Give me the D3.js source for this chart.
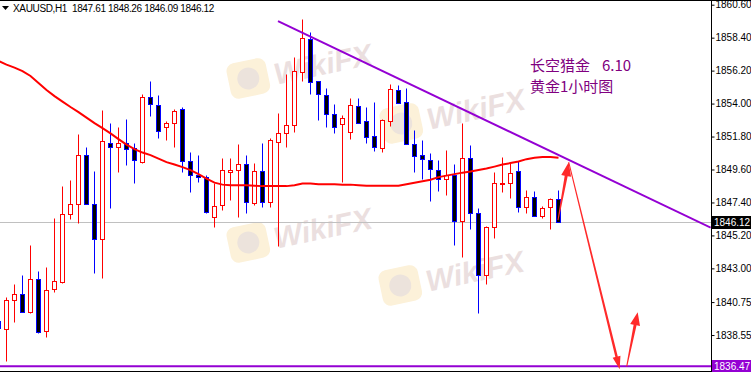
<!DOCTYPE html>
<html><head><meta charset="utf-8">
<script src="https://cdn.jsdelivr.net/npm/d3@7"></script>
<style>html,body{margin:0;padding:0;background:#fff;overflow:hidden}svg{display:block}</style>
</head><body>
<svg id="c" width="751" height="372"></svg>
<script>
const symbol = "XAUUSD,H1";
const firstIndex = -1;
const opens = [1839.49,1838.92,1840.92,1841.32,1840.12,1842.26,1838.82,1841.59,1842.06,1846.60,1847.31,1850.54,1847.27,1844.99,1851.34,1851.11,1851.38,1851.05,1850.11,1854.41,1853.90,1852.41,1852.68,1853.61,1850.14,1849.20,1849.07,1846.44,1847.20,1849.42,1849.54,1849.94,1847.37,1849.49,1847.44,1851.41,1852.01,1852.54,1856.12,1858.31,1855.50,1854.57,1853.28,1852.61,1852.11,1853.83,1852.83,1851.85,1851.05,1852.85,1854.90,1854.08,1851.27,1850.56,1850.23,1849.56,1848.94,1849.22,1846.17,1850.34,1846.67,1842.59,1845.73,1848.65,1848.67,1849.52,1847.07,1847.78,1846.51,1847.07,1847.61];
const highs = [1839.80,1841.09,1841.99,1842.54,1844.55,1842.81,1843.08,1846.37,1848.49,1848.89,1851.96,1851.11,1849.49,1853.57,1852.72,1852.41,1852.96,1851.34,1854.63,1855.50,1854.57,1852.83,1853.63,1853.75,1850.74,1850.56,1849.22,1848.67,1850.38,1850.38,1851.29,1850.56,1850.04,1851.38,1851.71,1853.34,1855.95,1857.12,1859.64,1858.75,1855.50,1855.05,1853.97,1853.23,1854.35,1854.35,1853.79,1854.12,1852.96,1855.30,1855.23,1855.02,1852.23,1851.56,1850.67,1850.23,1850.89,1849.96,1852.72,1851.23,1847.00,1845.82,1849.44,1850.45,1850.04,1850.16,1848.22,1848.15,1847.15,1847.70,1848.26];
const lows = [1838.87,1836.82,1839.42,1840.07,1839.99,1838.69,1838.42,1841.43,1842.00,1846.30,1846.04,1847.31,1842.70,1842.36,1847.04,1849.44,1849.89,1848.71,1850.04,1853.18,1851.70,1851.58,1851.11,1849.44,1848.11,1848.78,1846.69,1845.77,1846.89,1847.55,1846.40,1846.71,1847.22,1847.11,1847.11,1844.48,1851.11,1852.11,1855.50,1854.63,1852.90,1852.41,1852.05,1848.78,1851.63,1852.68,1851.34,1850.85,1850.78,1852.52,1854.01,1851.27,1849.44,1848.94,1847.51,1848.17,1847.89,1844.55,1843.77,1845.66,1840.03,1841.94,1845.06,1848.07,1847.73,1846.75,1846.71,1846.49,1846.33,1845.60,1846.09];
const closes = [1839.05,1840.92,1841.32,1840.12,1842.26,1838.76,1841.54,1842.14,1846.62,1847.33,1850.54,1847.31,1844.99,1851.47,1851.11,1851.34,1850.98,1850.21,1854.41,1853.95,1852.14,1852.68,1853.48,1850.14,1849.20,1849.09,1846.73,1847.15,1849.54,1849.54,1849.94,1847.44,1849.49,1847.44,1851.56,1852.01,1852.54,1856.15,1858.35,1855.45,1854.61,1853.28,1852.45,1853.01,1853.90,1852.68,1851.78,1851.11,1852.90,1854.95,1854.01,1851.27,1850.51,1850.27,1849.60,1848.94,1849.22,1846.17,1850.34,1846.67,1842.59,1845.73,1848.67,1848.67,1849.34,1847.07,1847.78,1846.49,1847.00,1847.62,1846.12];
const movingAverage = [1856.84,1856.60,1856.40,1856.17,1855.84,1855.37,1854.90,1854.50,1854.13,1853.77,1853.43,1853.06,1852.70,1852.36,1852.01,1851.63,1851.26,1850.96,1850.73,1850.56,1850.33,1850.09,1849.93,1849.76,1849.56,1849.29,1848.99,1848.72,1848.59,1848.55,1848.55,1848.55,1848.52,1848.49,1848.49,1848.49,1848.49,1848.55,1848.66,1848.66,1848.62,1848.62,1848.62,1848.59,1848.59,1848.55,1848.52,1848.52,1848.52,1848.52,1848.52,1848.62,1848.72,1848.82,1848.92,1849.09,1849.19,1849.29,1849.39,1849.46,1849.56,1849.66,1849.79,1849.93,1850.03,1850.13,1850.29,1850.39,1850.43,1850.43,1850.39];
const yTicks = [1860.60,1858.40,1856.20,1854.00,1851.80,1849.60,1847.40,1845.20,1843.00,1840.75,1838.55];
const bidPrice = 1846.12;
const supportPrice = 1836.47;
const trendLine = [[34, 1859.51],[88.09, 1845.72]];
const arrowPaths = [
  [[69, 1846.22],[70.34, 1850.09]],
  [[70.34, 1850.09],[76.71, 1836.26]],
  [[77.59, 1836.46],[78.96, 1840.07]]
];
const noteLines = [["长空猎金", "6.10"], ["黄金1小时图"]];
const watermarkSpots = [[225,65],[378,110],[225,229],[377,272]];

const svg = d3.select("#c");
const W = 751, H = 372, plotRight = 711, plotBottom = 371;
const x = d3.scaleLinear().domain([0, 69]).range([6, 558]);
const y = d3.scaleLinear().domain([supportPrice, 1860.60]).range([366.2, 4.7]);
const uiFont = "Liberation Sans, Arial, sans-serif";

const candles = opens.map((o, i) => ({k: firstIndex + i, o, h: highs[i], l: lows[i], c: closes[i]}));

svg.append("defs").append("clipPath").attr("id", "plot")
  .append("rect").attr("x", 0).attr("y", 0).attr("width", plotRight).attr("height", plotBottom);

const plot = svg.append("g").attr("clip-path", "url(#plot)");

// watermarks
const wm = plot.append("g").attr("class", "wm");
watermarkSpots.forEach(([wx, wy]) => {
  const g = wm.append("g").attr("transform", `translate(${wx},${wy}) rotate(-12)`);
  g.append("rect").attr("x", 0).attr("y", 0).attr("width", 40).attr("height", 36).attr("rx", 8)
    .attr("fill", "#fcf1d9");
  g.append("circle").attr("cx", 20).attr("cy", 18).attr("r", 11).attr("fill", "#ece3dc");
  g.append("text").attr("x", 46).attr("y", 30).text("WikiFX")
    .attr("font-family", uiFont).attr("font-weight", "bold")
    .attr("font-style", "italic").attr("font-size", 30).attr("fill", "#ebdfdf");
});

// bid line
const py = v => Math.round(y(v)) + 0.5;
plot.append("line").attr("x1", 0).attr("x2", plotRight).attr("y1", py(bidPrice)).attr("y2", py(bidPrice))
  .attr("stroke", "#c0c0c0").attr("stroke-width", 1);

// candles
const cg = plot.append("g");
candles.forEach(d => {
  const cx = Math.round(x(d.k));
  const up = d.c >= d.o;
  const col = up ? "#ff0000" : "#0000ff";
  cg.append("line").attr("x1", cx + 0.5).attr("x2", cx + 0.5)
    .attr("y1", py(d.h)).attr("y2", py(d.l)).attr("stroke", col).attr("stroke-width", 1);
  const t = py(Math.max(d.o, d.c)), b = py(Math.min(d.o, d.c));
  cg.append("rect").attr("x", cx - 1.5).attr("y", t).attr("width", 4).attr("height", Math.max(b - t, 1))
    .attr("fill", up ? "#ffffff" : "#000000").attr("stroke", col).attr("stroke-width", 1);
});

// moving average
plot.append("path").datum(movingAverage)
  .attr("d", d3.line().x((v, i) => x(firstIndex + i) + 0.5).y(v => y(v)))
  .attr("fill", "none").attr("stroke", "#ff0000").attr("stroke-width", 2);

// trend line & support
plot.append("line").attr("x1", x(trendLine[0][0])).attr("y1", y(trendLine[0][1]))
  .attr("x2", x(trendLine[1][0])).attr("y2", y(trendLine[1][1]))
  .attr("stroke", "#9400d3").attr("stroke-width", 2);
plot.append("line").attr("x1", 0).attr("x2", plotRight).attr("y1", y(supportPrice)).attr("y2", y(supportPrice))
  .attr("stroke", "#9400d3").attr("stroke-width", 2);

// arrows
function arrowPoly(p0, p1, w0, w1, hw, hl) {
  const dx = p1[0] - p0[0], dy = p1[1] - p0[1], len = Math.hypot(dx, dy);
  const ux = dx / len, uy = dy / len, nx = -uy, ny = ux;
  const nk = [p1[0] - ux * hl, p1[1] - uy * hl];
  const pts = [
    [p0[0] + nx * w0 / 2, p0[1] + ny * w0 / 2],
    [nk[0] + nx * w1 / 2, nk[1] + ny * w1 / 2],
    [nk[0] + nx * hw / 2, nk[1] + ny * hw / 2],
    p1,
    [nk[0] - nx * hw / 2, nk[1] - ny * hw / 2],
    [nk[0] - nx * w1 / 2, nk[1] - ny * w1 / 2],
    [p0[0] - nx * w0 / 2, p0[1] - ny * w0 / 2]
  ];
  return pts.map(p => p.join(",")).join(" ");
}
const arrowStyle = [[1, 3, 10, 14], [1, 2.5, 8, 13], [1, 3, 10, 13]];
arrowPaths.forEach((a, i) => {
  const p0 = [x(a[0][0]), y(a[0][1])], p1 = [x(a[1][0]), y(a[1][1])];
  const s = arrowStyle[i];
  plot.append("polygon").attr("points", arrowPoly(p0, p1, s[0], s[1], s[2], s[3]))
    .attr("fill", "#ff2a2a");
});

// note text
noteLines.forEach((parts, i) => {
  const t = plot.append("text").attr("x", 530).attr("y", 71 + i * 21)
    .attr("font-family", "Noto Sans CJK SC, sans-serif").attr("font-size", 15).attr("fill", "#800080");
  parts.forEach((p, j) => t.append("tspan").attr("dx", j ? 12 : 0).text(p));
});

// header
svg.append("polygon").attr("points", "2,6 9,6 5.5,10").attr("fill", "#000");
const last = candles[candles.length - 1];
svg.append("text").attr("x", 13).attr("y", 11.5)
  .attr("font-family", uiFont).attr("font-size", 10).attr("fill", "#000")
  .attr("letter-spacing", -0.35).style("white-space", "pre")
  .text(`${symbol}  ${[last.o, last.h, last.l, last.c].map(v => v.toFixed(2)).join(" ")}`);

// frame
svg.append("line").attr("x1", 0).attr("x2", W).attr("y1", 0.5).attr("y2", 0.5).attr("stroke", "#000");
svg.append("line").attr("x1", plotRight + 0.5).attr("x2", plotRight + 0.5).attr("y1", 0).attr("y2", H).attr("stroke", "#000");
svg.append("line").attr("x1", 0).attr("x2", W).attr("y1", plotBottom + 0.5).attr("y2", plotBottom + 0.5).attr("stroke", "#000");

// axis
const axis = d3.axisRight(y).tickValues(yTicks).tickFormat(d3.format(".2f")).tickSize(3).tickPadding(1).tickSizeOuter(0);
const ag = svg.append("g").attr("transform", `translate(${plotRight + 0.5},0)`).call(axis);
ag.select(".domain").remove();
ag.selectAll("text").attr("font-family", uiFont).attr("font-size", 10).attr("fill", "#000");
ag.selectAll("line").attr("stroke", "#000");

// price labels
function priceLabel(v, bg) {
  const yy = Math.round(y(v));
  svg.append("rect").attr("x", plotRight + 1).attr("y", yy - 6).attr("width", W - plotRight - 1).attr("height", 13).attr("fill", bg);
  svg.append("text").attr("x", plotRight + 3).attr("y", yy + 4)
    .attr("font-family", uiFont).attr("font-size", 10).attr("fill", "#fff")
    .text(v.toFixed(2));
}
priceLabel(bidPrice, "#000");
priceLabel(supportPrice, "#9400d3");
</script>
</body></html>
